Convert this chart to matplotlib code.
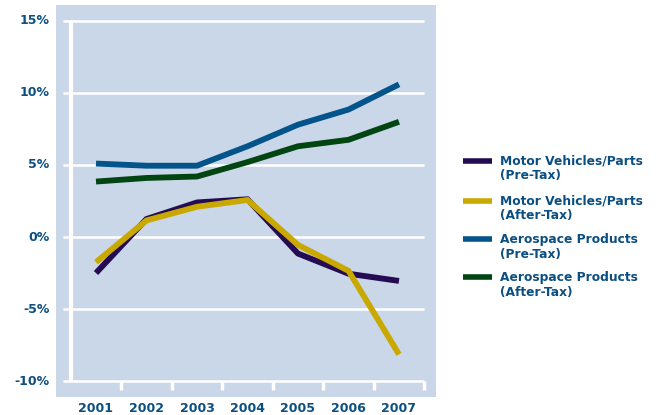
import matplotlib.pyplot as plt
from matplotlib.lines import Line2D

years = ['2001', '2002', '2003', '2004', '2005', '2006', '2007']
motor_pre = [-2.5, 1.25, 2.4, 2.62, -1.15, -2.55, -3.05]
motor_after = [-1.75, 1.15, 2.1, 2.57, -0.55, -2.35, -8.15]
aero_pre = [5.1, 4.95, 4.95, 6.3, 7.8, 8.85, 10.6]
aero_after = [3.85, 4.1, 4.2, 5.2, 6.3, 6.75, 8.0]
yticks = [-10, -5, 0, 5, 10, 15]
ytick_labels = ['-10%', '-5%', '0%', '5%', '10%', '15%']

series = [
    ('Motor Vehicles/Parts\n(Pre-Tax)', motor_pre, '#250B52'),
    ('Motor Vehicles/Parts\n(After-Tax)', motor_after, '#C9A800'),
    ('Aerospace Products\n(Pre-Tax)', aero_pre, '#02548A'),
    ('Aerospace Products\n(After-Tax)', aero_after, '#004512'),
]

text_color = '#0B4F82'
panel = '#CAD7E8'
plt.rcParams['font.family'] = ['DejaVu Sans']

fig = plt.figure(figsize=(6.59, 4.15), dpi=100)
ax = fig.add_axes([56 / 659, 18 / 415, 380 / 659, 392 / 415])
ax.set_facecolor(panel)
for s in ax.spines.values():
    s.set_visible(False)

x = list(range(len(years)))
ax.set_xlim(-0.792, 6.733)
ax.set_ylim(-11.11, 16.11)

# white grid and axis lines
for yv in yticks:
    ax.plot([-0.66, 6.5], [yv, yv], color='white', lw=1.8, zorder=1,
            solid_capstyle='butt')
ax.plot([-0.5, -0.5], [-10, 15], color='white', lw=3, zorder=1,
        solid_capstyle='butt')
for b in [i + 0.5 for i in range(len(years))]:
    ax.plot([b, b], [-10, -10.6], color='white', lw=2.5, zorder=1,
            solid_capstyle='butt')

for label, vals, col in series:
    ax.plot(x, vals, color=col, lw=4.2, solid_joinstyle='miter',
            solid_capstyle='butt', zorder=3)

ax.set_xticks([])
ax.set_yticks([])

# tick labels
for yv, lab in zip(yticks, ytick_labels):
    ax.text(-0.92, yv, lab, ha='right', va='center', fontsize=9,
            fontweight='bold', color=text_color, clip_on=False)
for xi, lab in zip(x, years):
    ax.text(xi, -11.9, lab, ha='center', va='center', fontsize=9,
            fontweight='bold', color=text_color, clip_on=False)

# legend
legend_y = [160.7, 200.7, 239.3, 277.3]
for (label, vals, col), py in zip(series, legend_y):
    fy = 1 - py / 415
    fig.add_artist(Line2D([463 / 659, 492 / 659], [fy, fy], color=col,
                          lw=4, solid_capstyle='butt'))
    fig.text(500 / 659, fy + 6.5 / 415, label, ha='left', va='top',
             fontsize=8.8, fontweight='bold', color=text_color,
             linespacing=1.2)

fig.savefig('out.png', dpi=100, facecolor='white')
